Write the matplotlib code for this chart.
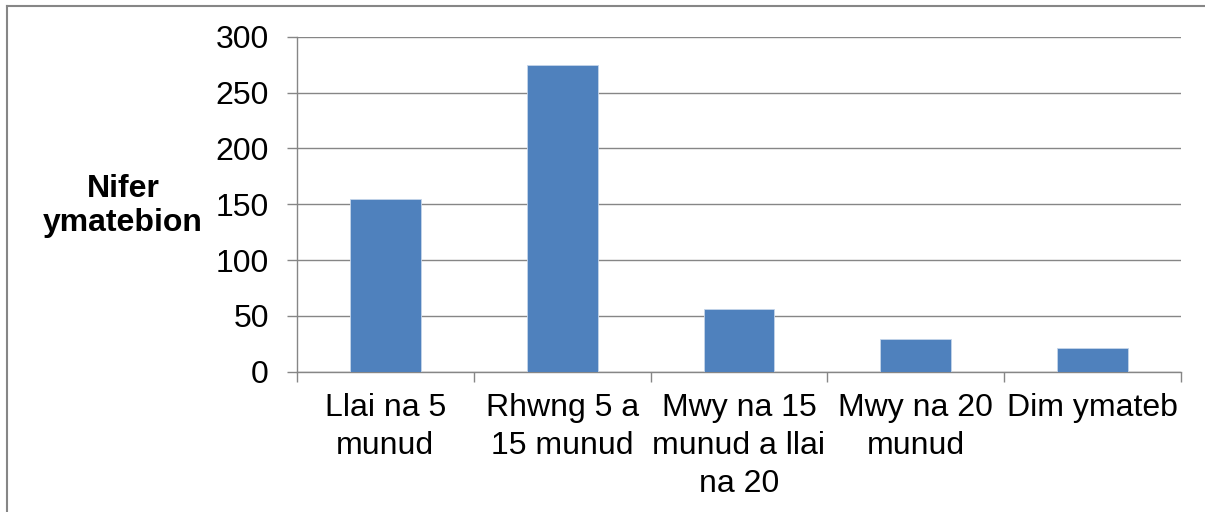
import numpy as np
import matplotlib
matplotlib.use("Agg")
import matplotlib.pyplot as plt
from matplotlib.lines import Line2D

plt.rcParams["font.family"] = ["Liberation Sans", "DejaVu Sans"]

categories = ["Llai na 5\nmunud", "Rhwng 5 a\n15 munud", "Mwy na 15\nmunud a llai\nna 20",
              "Mwy na 20\nmunud", "Dim ymateb"]
counts = [155, 275, 56, 29, 21]
yticks = [0, 50, 100, 150, 200, 250, 300]
ylabel = "Nifer\nymatebion"

GRAY = "#868686"
BLUE = "#4F81BD"

fig = plt.figure(figsize=(12.05, 5.12), dpi=100)
ax = fig.add_axes([297 / 1205, 1 - 371.7 / 512, (1181 - 297) / 1205, (371.7 - 36.7) / 512])

x = np.arange(len(categories))
ax.bar(x, counts, width=0.4, color=BLUE, edgecolor="#C5D5EA", linewidth=0.6, zorder=3)

ax.set_xlim(-0.5, len(categories) - 0.5)
ax.set_ylim(0, 300)
ax.set_yticks(yticks)
ax.yaxis.grid(True, color=GRAY, lw=1.0, zorder=0)
ax.set_axisbelow(True)

for sp in ["top", "right"]:
    ax.spines[sp].set_visible(False)
for sp in ["left", "bottom"]:
    ax.spines[sp].set_color(GRAY)
    ax.spines[sp].set_linewidth(1.0)

ax.tick_params(axis="y", length=7.2, width=1.0, color=GRAY, pad=13, labelsize=23)
ax.set_xticks(x)
ax.set_xticklabels(categories, fontsize=23, linespacing=1.36)
ax.tick_params(axis="x", which="major", length=0, pad=15)
ax.set_xticks(np.arange(-0.5, len(categories)), minor=True)
ax.tick_params(axis="x", which="minor", length=7.2, width=1.0, color=GRAY)

fig.text(123 / 1205, 1 - 206 / 512, ylabel, ha="center", va="center",
         fontsize=23, fontweight="bold", linespacing=1.15)

# chart-area border (top and left edges visible)
fig.add_artist(Line2D([6.5 / 1205, 1], [1 - 5.5 / 512, 1 - 5.5 / 512],
                      transform=fig.transFigure, color=GRAY, lw=1.5))
fig.add_artist(Line2D([6.5 / 1205, 6.5 / 1205], [0, 1 - 5.5 / 512],
                      transform=fig.transFigure, color=GRAY, lw=1.5))

fig.savefig("out.png", dpi=100)
